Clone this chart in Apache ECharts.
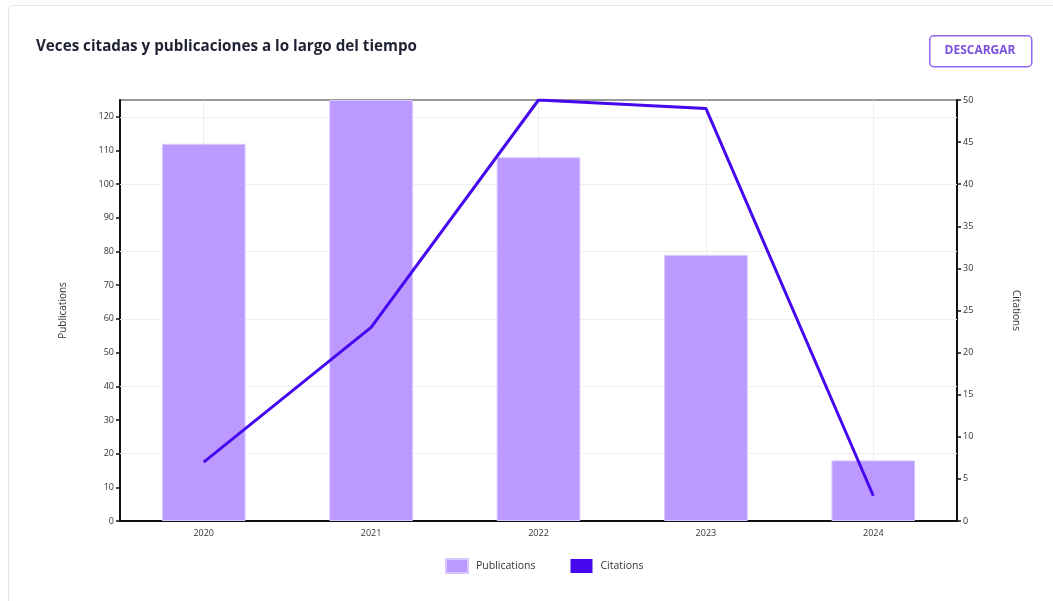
<!DOCTYPE html>
<html>
<head>
<meta charset="utf-8">
<script src="https://cdn.jsdelivr.net/npm/echarts@6/dist/echarts.min.js"></script>
<style>
  html, body { margin: 0; padding: 0; background: #ffffff; }
  #card {
    position: absolute; left: 8px; top: 5px; width: 1060px; height: 610px;
    border: 1px solid #e6e6e6; border-radius: 6px; background: #fff; box-sizing: border-box;
  }
  #chart { position: absolute; left: 0; top: 0; width: 1053px; height: 601px; }
</style>
</head>
<body>
<div id="card"></div>
<div id="chart"></div>
<script>
// Yearly publication counts and citation counts
const years = ['2020', '2021', '2022', '2023', '2024'];
const publications = [112, 125, 108, 79, 18];
const citations = [7, 23, 50, 49, 3];
const gridSteps = [20, 40, 60, 80, 100, 120];

const FONT = '"Open Sans", "Noto Sans", sans-serif';
const BAR_COLOR = '#bc99fe';
const LINE_COLOR = '#4608ee';

const chart = echarts.init(document.getElementById('chart'), null, { renderer: 'canvas' });

chart.setOption({
  animation: false,
  textStyle: { fontFamily: FONT },
  title: {
    text: 'Veces citadas y publicaciones a lo largo del tiempo',
    left: 31, top: 34,
    textStyle: { fontFamily: FONT, fontSize: 15.2, fontWeight: 'bold', color: '#1f2233' }
  },
  graphic: [
    {
      type: 'rect', left: 929, top: 35,
      shape: { width: 102, height: 31, r: 4 },
      style: { fill: '#fff', stroke: '#8f66f0', lineWidth: 1.5 }
    },
    {
      type: 'text', x: 980, y: 51,
      style: {
        text: 'DESCARGAR', fill: '#7a4fe0', font: 'bold 12px ' + FONT,
        align: 'center', verticalAlign: 'middle'
      }
    }
  ],
  legend: {
    bottom: 22, left: 440, itemGap: 35, itemWidth: 22, itemHeight: 14,
    textStyle: { fontSize: 10.5, color: '#333', fontFamily: FONT, padding: [0, 0, 0, 3] },
    data: [
      { name: 'Publications', icon: 'rect' },
      { name: 'Citations', icon: 'rect', itemStyle: { color: LINE_COLOR } }
    ]
  },
  grid: {
    left: 120, right: 96, top: 100, bottom: 80,
    show: true, borderColor: '#777', borderWidth: 1.5, backgroundColor: 'transparent'
  },
  xAxis: {
    type: 'category',
    data: years,
    axisLine: { lineStyle: { color: '#111', width: 2 } },
    axisTick: { alignWithLabel: true, length: 4, lineStyle: { color: '#111', width: 1.5 } },
    axisLabel: { fontSize: 9, color: '#333', margin: 8 },
    splitLine: { show: false }
  },
  yAxis: [
    {
      type: 'value', min: 0, max: 125, interval: 10,
      name: 'Publications', nameLocation: 'middle', nameGap: 52, nameRotate: 90,
      nameTextStyle: { fontSize: 10, color: '#333' },
      axisLine: { show: true, lineStyle: { color: '#111', width: 2 } },
      axisTick: { show: true, length: 4, lineStyle: { color: '#111', width: 1.5 } },
      axisLabel: { fontSize: 9, color: '#333', margin: 6, showMaxLabel: false },
      splitLine: { show: false }
    },
    {
      type: 'value', min: 0, max: 50, interval: 5,
      name: 'Citations', nameLocation: 'middle', nameGap: 54, nameRotate: -90,
      nameTextStyle: { fontSize: 10, color: '#333' },
      axisLine: { show: true, lineStyle: { color: '#111', width: 2 } },
      axisTick: { show: true, length: 4, lineStyle: { color: '#111', width: 1.5 } },
      axisLabel: { fontSize: 9, color: '#333', margin: 6 },
      splitLine: { show: false }
    }
  ],
  series: [
    {
      name: 'Publications', type: 'bar', yAxisIndex: 0,
      data: publications, barWidth: '50%',
      itemStyle: { color: BAR_COLOR, borderColor: '#d9c8ff', borderWidth: 1 },
      z: 2,
      markLine: {
        silent: true, symbol: 'none', label: { show: false },
        lineStyle: { color: '#eeeeee', width: 1, type: 'solid' },
        z: 1,
        data: gridSteps.map(v => ({ yAxis: v })).concat(years.map(y => ({ xAxis: y })))
      }
    },
    {
      name: 'Citations', type: 'line', yAxisIndex: 1,
      data: citations, symbol: 'none',
      lineStyle: { color: LINE_COLOR, width: 3 },
      itemStyle: { color: LINE_COLOR },
      z: 3
    }
  ]
});
</script>
</body>
</html>
